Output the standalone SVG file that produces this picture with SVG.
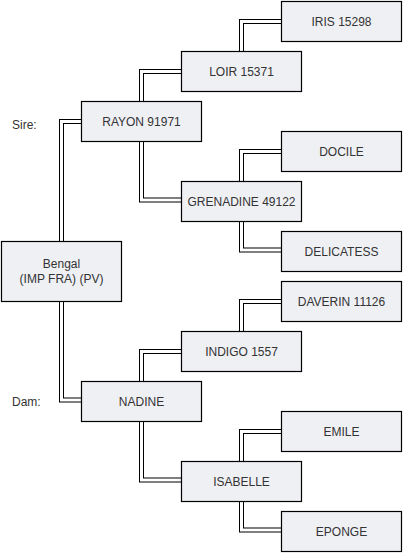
<svg xmlns="http://www.w3.org/2000/svg" width="403" height="553" viewBox="0 0 403 553">
<style>
.outer{fill:none;stroke:#000;stroke-width:5;stroke-linejoin:miter}
.inner{fill:none;stroke:#fff;stroke-width:3;stroke-linejoin:miter}
.box{fill:#eff0f4;stroke:#000;stroke-width:1.2}
.t{font-family:"Liberation Sans",Arial,sans-serif;font-size:12px;fill:#333;text-anchor:middle}
.lbl{font-family:"Liberation Sans",Arial,sans-serif;font-size:12px;fill:#333}
</style>
<rect width="403" height="553" fill="#fff"/>
<g id="connectors">
<defs>
<path id="e1" d="M61.5,241 V121.5 H81"/>
<path id="e2" d="M61.5,301 V400 H81"/>
<path id="e3" d="M141.5,101 V71.5 H181"/>
<path id="e4" d="M141.5,141 V200 H181"/>
<path id="e5" d="M241.5,51 V21.5 H281"/>
<path id="e6" d="M241.5,181 V151.5 H281"/>
<path id="e7" d="M241.5,221 V250 H281"/>
<path id="e8" d="M141.5,381 V351.5 H181"/>
<path id="e9" d="M141.5,421 V480 H181"/>
<path id="e10" d="M241.5,331 V301.5 H281"/>
<path id="e11" d="M241.5,461 V431.5 H281"/>
<path id="e12" d="M241.5,501 V530 H281"/>
</defs>
<use href="#e1" class="outer"/><use href="#e1" class="inner"/>
<use href="#e2" class="outer"/><use href="#e2" class="inner"/>
<use href="#e3" class="outer"/><use href="#e3" class="inner"/>
<use href="#e4" class="outer"/><use href="#e4" class="inner"/>
<use href="#e5" class="outer"/><use href="#e5" class="inner"/>
<use href="#e6" class="outer"/><use href="#e6" class="inner"/>
<use href="#e7" class="outer"/><use href="#e7" class="inner"/>
<use href="#e8" class="outer"/><use href="#e8" class="inner"/>
<use href="#e9" class="outer"/><use href="#e9" class="inner"/>
<use href="#e10" class="outer"/><use href="#e10" class="inner"/>
<use href="#e11" class="outer"/><use href="#e11" class="inner"/>
<use href="#e12" class="outer"/><use href="#e12" class="inner"/>
</g>
<text class="lbl" x="12" y="128.5">Sire:</text>
<text class="lbl" x="12" y="405.5">Dam:</text>
<g id="bengal"><rect class="box" x="1.5" y="241.5" width="120" height="60"/><text class="t" x="61.5" y="268">Bengal</text><text class="t" x="61.5" y="283">(IMP FRA) (PV)</text></g>
<g id="rayon"><rect class="box" x="81.5" y="101.5" width="120" height="40"/><text class="t" x="141.5" y="126">RAYON 91971</text></g>
<g id="nadine"><rect class="box" x="81.5" y="381.5" width="120" height="40"/><text class="t" x="141.5" y="406">NADINE</text></g>
<g id="loir"><rect class="box" x="181.5" y="51.5" width="120" height="40"/><text class="t" x="241.5" y="76">LOIR 15371</text></g>
<g id="grenadine"><rect class="box" x="181.5" y="181.5" width="120" height="40"/><text class="t" x="241.5" y="206">GRENADINE 49122</text></g>
<g id="indigo"><rect class="box" x="181.5" y="331.5" width="120" height="40"/><text class="t" x="241.5" y="356">INDIGO 1557</text></g>
<g id="isabelle"><rect class="box" x="181.5" y="461.5" width="120" height="40"/><text class="t" x="241.5" y="486">ISABELLE</text></g>
<g id="iris"><rect class="box" x="281.5" y="1.5" width="120" height="40"/><text class="t" x="341.5" y="26">IRIS 15298</text></g>
<g id="docile"><rect class="box" x="281.5" y="131.5" width="120" height="40"/><text class="t" x="341.5" y="156">DOCILE</text></g>
<g id="delicatess"><rect class="box" x="281.5" y="231.5" width="120" height="40"/><text class="t" x="341.5" y="256">DELICATESS</text></g>
<g id="daverin"><rect class="box" x="281.5" y="281.5" width="120" height="40"/><text class="t" x="341.5" y="306">DAVERIN 11126</text></g>
<g id="emile"><rect class="box" x="281.5" y="411.5" width="120" height="40"/><text class="t" x="341.5" y="436">EMILE</text></g>
<g id="eponge"><rect class="box" x="281.5" y="511.5" width="120" height="40"/><text class="t" x="341.5" y="536">EPONGE</text></g>
</svg>
